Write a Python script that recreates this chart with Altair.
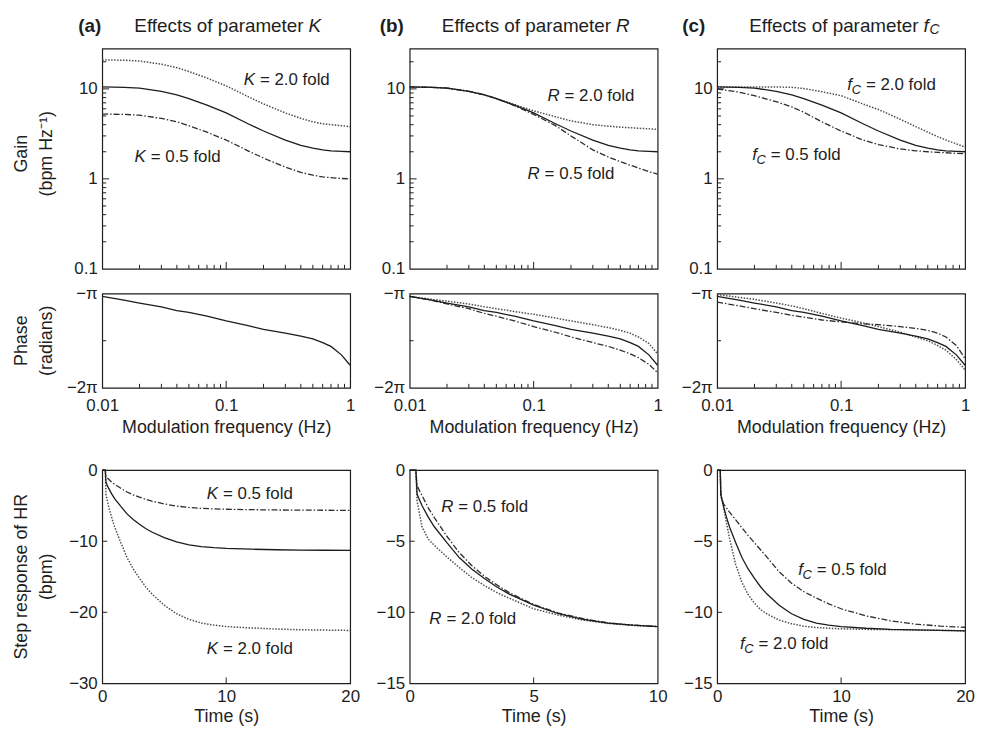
import altair as alt
import pandas as pd

# ---------------- values ----------------
FREQ = [0.01, 0.015, 0.02, 0.03, 0.04, 0.05, 0.07, 0.1, 0.15, 0.2, 0.3, 0.4, 0.5, 0.6, 0.7, 0.85, 1.0]

GAIN_CTRL = [10.5, 10.4, 10.2, 9.4, 8.6, 7.8, 6.6, 5.4, 4.1, 3.4, 2.7, 2.35, 2.2, 2.1, 2.05, 2.02, 2.0]
GAIN_K2 = [21.0, 20.8, 20.4, 18.8, 17.2, 15.6, 13.2, 10.8, 8.2, 6.8, 5.4, 4.7, 4.3, 4.1, 4.0, 3.9, 3.8]
GAIN_K05 = [5.25, 5.2, 5.1, 4.7, 4.3, 3.9, 3.3, 2.7, 2.05, 1.7, 1.35, 1.18, 1.1, 1.05, 1.03, 1.01, 1.0]
GAIN_R2 = [10.5, 10.4, 10.2, 9.4, 8.6, 7.8, 6.7, 5.7, 4.9, 4.4, 4.0, 3.85, 3.75, 3.7, 3.65, 3.6, 3.55]
GAIN_R05 = [10.5, 10.4, 10.2, 9.4, 8.6, 7.8, 6.5, 5.2, 3.9, 3.0, 2.1, 1.75, 1.55, 1.42, 1.32, 1.2, 1.13]
GAIN_FC2 = [10.5, 10.5, 10.5, 10.5, 10.4, 10.1, 9.3, 8.4, 6.8, 5.9, 4.6, 3.8, 3.3, 2.95, 2.7, 2.45, 2.25]
GAIN_FC05 = [10.0, 9.2, 8.4, 7.2, 6.3, 5.5, 4.3, 3.4, 2.7, 2.4, 2.15, 2.05, 2.0, 1.97, 1.95, 1.92, 1.9]

# phase in multiples of pi
PHASE_CTRL = [-1.03, -1.07, -1.10, -1.14, -1.18, -1.20, -1.24, -1.29, -1.34, -1.38, -1.42, -1.45, -1.48, -1.52, -1.56, -1.65, -1.76]
PHASE_R2 = [-1.03, -1.06, -1.08, -1.11, -1.14, -1.16, -1.19, -1.22, -1.26, -1.29, -1.33, -1.36, -1.39, -1.42, -1.46, -1.53, -1.64]
PHASE_R05 = [-1.03, -1.07, -1.11, -1.16, -1.21, -1.24, -1.29, -1.35, -1.41, -1.46, -1.52, -1.56, -1.60, -1.64, -1.68, -1.75, -1.84]
PHASE_FC2 = [-1.01, -1.04, -1.06, -1.10, -1.13, -1.16, -1.21, -1.26, -1.31, -1.35, -1.41, -1.46, -1.50, -1.55, -1.60, -1.70, -1.81]
PHASE_FC05 = [-1.09, -1.13, -1.16, -1.20, -1.23, -1.25, -1.28, -1.30, -1.32, -1.33, -1.35, -1.37, -1.39, -1.42, -1.46, -1.55, -1.69]

TIME = [0, 0.25, 0.3, 0.5, 0.75, 1, 1.5, 2, 2.5, 3, 3.5, 4, 5, 6, 7, 8, 9, 10, 12, 14, 16, 18, 20]
STEP_CTRL = [0, 0, -1.7, -2.5, -3.3, -4.0, -5.1, -6.15, -6.95, -7.6, -8.2, -8.7, -9.5, -10.1, -10.5, -10.76, -10.9, -11.0, -11.12, -11.2, -11.24, -11.27, -11.3]
STEP_K2 = [0, 0, -3.4, -5.0, -6.6, -8.0, -10.2, -12.3, -13.9, -15.2, -16.4, -17.4, -19.0, -20.2, -21.0, -21.5, -21.8, -22.0, -22.2, -22.35, -22.45, -22.5, -22.55]
STEP_K05 = [0, 0, -0.85, -1.25, -1.65, -2.0, -2.55, -3.08, -3.48, -3.8, -4.1, -4.35, -4.75, -5.05, -5.25, -5.38, -5.45, -5.5, -5.56, -5.6, -5.62, -5.64, -5.65]
STEP_R2 = [0, 0, -2.2, -4.0, -4.85, -5.3, -6.1, -6.85, -7.55, -8.1, -8.6, -9.0, -9.75, -10.2, -10.55, -10.78, -10.92, -11.0, -11.12, -11.2, -11.24, -11.27, -11.3]
STEP_R05 = [0, 0, -1.1, -1.8, -2.65, -3.35, -4.65, -5.8, -6.7, -7.45, -8.05, -8.6, -9.45, -10.05, -10.45, -10.74, -10.9, -11.0, -11.12, -11.2, -11.24, -11.27, -11.3]
STEP_FC2 = [0, 0, -1.8, -2.5, -3.7, -4.8, -6.65, -7.9, -8.75, -9.35, -9.8, -10.1, -10.55, -10.8, -10.98, -11.07, -11.12, -11.16, -11.2, -11.22, -11.25, -11.27, -11.3]
STEP_FC05 = [0, 0, -1.8, -2.35, -2.65, -2.95, -3.5, -4.05, -4.6, -5.1, -5.6, -6.1, -7.15, -7.95, -8.55, -9.0, -9.4, -9.75, -10.25, -10.6, -10.83, -10.97, -11.05]

# axis tick values
LOG_X_MINOR = [0.02, 0.03, 0.04, 0.05, 0.06, 0.07, 0.08, 0.09, 0.2, 0.3, 0.4, 0.5, 0.6, 0.7, 0.8, 0.9]
LOG_X_MAJOR = [0.1]
GAIN_Y_MINOR = [0.2, 0.3, 0.4, 0.5, 0.6, 0.7, 0.8, 0.9, 2, 3, 4, 5, 6, 7, 8, 9, 20]
GAIN_Y_MAJOR = [1, 10]
PHASE_Y_INNER = [-1.5]

# curve labels: (x, y, symbol, subscript, text)
LAB_GAIN_A = [(0.177, 12.6, "K", "", "= 2.0 fold"), (0.0233, 1.73, "K", "", "= 0.5 fold")]
LAB_GAIN_B = [(0.168, 8.3, "R", "", "= 2.0 fold"), (0.116, 1.12, "R", "", "= 0.5 fold")]
LAB_GAIN_C = [(0.15, 11.0, "f", "C", "= 2.0 fold"), (0.0256, 1.86, "f", "C", "= 0.5 fold")]
LAB_STEP_A = [(9.5, -3.3, "K", "", "= 0.5 fold"), (9.5, -25.1, "K", "", "= 2.0 fold")]
LAB_STEP_B = [(1.84, -2.57, "R", "", "= 0.5 fold"), (1.36, -10.5, "R", "", "= 2.0 fold")]
LAB_STEP_C = [(7.8, -7.0, "f", "C", "= 0.5 fold"), (3.1, -12.2, "f", "C", "= 2.0 fold")]

# ---------------- styling ----------------
FONT = "Liberation Sans"
INK = "#1e1e1e"
W = 250
H_GAIN, H_PHASE, H_GAP, H_STEP = 222, 95, 33, 215

SOLID = {"color": "#1c1c1c", "strokeWidth": 1.3}
DOT = {"color": "#4d4d4d", "strokeWidth": 1.5, "strokeDash": [1.5, 1.5]}
DASHDOT = {"color": "#2e2e2e", "strokeWidth": 1.3, "strokeDash": [6, 2, 1.5, 2]}

ONE = pd.DataFrame({"a": [0]})


def txt(text, x, y, size=17, **kw):
    return alt.Chart(ONE).mark_text(
        text=text, font=FONT, fontSize=size, color=INK, baseline="middle", **kw
    ).encode(x=alt.value(x), y=alt.value(y))


def lines(xfield, xs, series, xenc, yenc, tmax=None):
    out = []
    for ys, style in series:
        df = pd.DataFrame({xfield: xs, "v": ys})
        if tmax is not None:
            df = df[df[xfield] <= tmax]
        out.append(alt.Chart(df).mark_line(**style).encode(x=xenc, y=yenc))
    return out


def xticks(xfield, vals, xenc, h, length):
    df = pd.DataFrame({xfield: vals})
    return alt.Chart(df).mark_rule(color=INK, strokeWidth=1).encode(
        x=xenc, y=alt.value(h), y2=alt.value(h - length))


def yticks(vals, yenc, length):
    df = pd.DataFrame({"v": vals})
    return alt.Chart(df).mark_rule(color=INK, strokeWidth=1).encode(
        y=yenc, x=alt.value(0), x2=alt.value(length))


def curve_labels(xfield, labels, xenc, yenc):
    out = []
    for x, y, sym, sub, rest in labels:
        base = alt.Chart(pd.DataFrame({xfield: [x], "v": [y]}))
        out.append(base.mark_text(text=rest, align="left", baseline="middle", dx=3,
                                  font=FONT, fontSize=17, color=INK).encode(x=xenc, y=yenc))
        if sub:
            out.append(base.mark_text(text=sub, align="right", baseline="middle", dx=-2, dy=5,
                                      font=FONT, fontSize=13, fontStyle="italic", color=INK).encode(x=xenc, y=yenc))
            out.append(base.mark_text(text=sym, align="right", baseline="middle", dx=-11,
                                      font=FONT, fontSize=17, fontStyle="italic", color=INK).encode(x=xenc, y=yenc))
        else:
            out.append(base.mark_text(text=sym, align="right", baseline="middle", dx=-2,
                                      font=FONT, fontSize=17, fontStyle="italic", color=INK).encode(x=xenc, y=yenc))
    return out


def freq_x(show):
    sc = alt.Scale(type="log", domain=[0.01, 1], nice=False)
    if show:
        return alt.X("f:Q", scale=sc, axis=alt.Axis(
            values=[0.01, 0.1, 1], format="~g", title="Modulation frequency (Hz)",
            labelPadding=10, titlePadding=5, labelFlush=False))
    return alt.X("f:Q", scale=sc, axis=None)


def gain_y():
    return alt.Y("v:Q", scale=alt.Scale(type="log", domain=[0.1, 28], nice=False),
                 axis=alt.Axis(values=[0.1, 1, 10], format="~g", title=None, labelPadding=5))


def phase_y():
    return alt.Y("v:Q", scale=alt.Scale(domain=[-2, -1], nice=False, zero=False),
                 axis=alt.Axis(values=[-2, -1], title=None, labelPadding=5,
                               labelExpr="datum.value == -1 ? '\u2212\u03c0' : '\u22122\u03c0'"))


def step_y(lo, vals):
    return alt.Y("v:Q", scale=alt.Scale(domain=[lo, 0], nice=False, zero=False),
                 axis=alt.Axis(values=vals, format="d", title=None, labelPadding=5))


def time_x(tmax, vals):
    return alt.X("t:Q", scale=alt.Scale(domain=[0, tmax], nice=False),
                 axis=alt.Axis(values=vals, format="d", title="Time (s)",
                               labelPadding=5, titlePadding=3, labelFlush=False))


def title_layers(letter, letter_x, sym, sub):
    out = [txt("(" + letter + ")", letter_x, -23, size=19, fontWeight="bold", align="right"),
           txt("Effects of parameter", 203, -23, size=19, align="right"),
           txt(sym, 208, -23, size=19, fontStyle="italic", align="left")]
    if sub:
        out.append(txt(sub, 214, -19, size=14, fontStyle="italic", align="left"))
    return out


def gain_panel(series, labels, letter, letter_x, sym, sub, ytitle):
    xe, ye = freq_x(False), gain_y()
    layers = lines("f", FREQ, series, xe, ye)
    layers += [xticks("f", LOG_X_MINOR, xe, H_GAIN, 4), xticks("f", LOG_X_MAJOR, xe, H_GAIN, 7),
               yticks(GAIN_Y_MINOR, ye, 4), yticks(GAIN_Y_MAJOR, ye, 7)]
    layers += curve_labels("f", labels, xe, ye)
    layers += title_layers(letter, letter_x, sym, sub)
    if ytitle:
        layers += [txt("Gain", -81, H_GAIN / 2 - 5, size=18, angle=270, align="center"),
                   txt("(bpm Hz\u207b\u00b9)", -56, H_GAIN / 2 - 5, size=18, angle=270, align="center")]
    return alt.layer(*layers).properties(width=W, height=H_GAIN)


def phase_panel(series, ytitle):
    xe, ye = freq_x(True), phase_y()
    layers = lines("f", FREQ, series, xe, ye)
    layers += [xticks("f", LOG_X_MINOR, xe, H_PHASE, 4), xticks("f", LOG_X_MAJOR, xe, H_PHASE, 7),
               yticks(PHASE_Y_INNER, ye, 4)]
    if ytitle:
        layers += [txt("Phase", -81, H_PHASE / 2, size=18, angle=270, align="center"),
                   txt("(radians)", -56, H_PHASE / 2, size=18, angle=270, align="center")]
    return alt.layer(*layers).properties(width=W, height=H_PHASE)


def step_panel(series, labels, tmax, xvals, xinner, lo, yvals, yinner, ytitle):
    xe, ye = time_x(tmax, xvals), step_y(lo, yvals)
    layers = lines("t", TIME, series, xe, ye, tmax=tmax)
    layers += [xticks("t", xinner, xe, H_STEP, 6), yticks(yinner, ye, 5)]
    layers += curve_labels("t", labels, xe, ye)
    if ytitle:
        layers += [txt("Step response of HR", -81, H_STEP / 2, size=18, angle=270, align="center"),
                   txt("(bpm)", -56, H_STEP / 2, size=18, angle=270, align="center")]
    return alt.layer(*layers).properties(width=W, height=H_STEP)


def spacer():
    return alt.Chart(ONE).mark_text(text="").encode(x=alt.value(0), y=alt.value(0)).properties(
        width=W, height=H_GAP, view=alt.ViewBackground(strokeOpacity=0))


g_a = gain_panel([(GAIN_K2, DOT), (GAIN_K05, DASHDOT), (GAIN_CTRL, SOLID)], LAB_GAIN_A, "a", -1, "K", "", True)
g_b = gain_panel([(GAIN_R2, DOT), (GAIN_R05, DASHDOT), (GAIN_CTRL, SOLID)], LAB_GAIN_B, "b", -6, "R", "", False)
g_c = gain_panel([(GAIN_FC2, DOT), (GAIN_FC05, DASHDOT), (GAIN_CTRL, SOLID)], LAB_GAIN_C, "c", -12, "f", "C", False)

p_a = phase_panel([(PHASE_CTRL, SOLID)], True)
p_b = phase_panel([(PHASE_R2, DOT), (PHASE_R05, DASHDOT), (PHASE_CTRL, SOLID)], False)
p_c = phase_panel([(PHASE_FC2, DOT), (PHASE_FC05, DASHDOT), (PHASE_CTRL, SOLID)], False)

s_a = step_panel([(STEP_K2, DOT), (STEP_K05, DASHDOT), (STEP_CTRL, SOLID)], LAB_STEP_A,
                 20, [0, 10, 20], [10], -30, [0, -10, -20, -30], [-10, -20], True)
s_b = step_panel([(STEP_R2, DOT), (STEP_R05, DASHDOT), (STEP_CTRL, SOLID)], LAB_STEP_B,
                 10, [0, 5, 10], [5], -15, [0, -5, -10, -15], [-5, -10], False)
s_c = step_panel([(STEP_FC2, DOT), (STEP_FC05, DASHDOT), (STEP_CTRL, SOLID)], LAB_STEP_C,
                 20, [0, 10, 20], [10], -15, [0, -5, -10, -15], [-5, -10], False)

chart = alt.concat(
    g_a, g_b, g_c,
    p_a, p_b, p_c,
    spacer(), spacer(), spacer(),
    s_a, s_b, s_c,
    columns=3, spacing={"row": 25, "column": 60}, bounds="flush",
).properties(
    padding={"left": 4, "top": 5, "right": 0, "bottom": 0}, background="white"
).configure(font=FONT).configure_view(
    stroke=INK, strokeWidth=1.2
).configure_axis(
    labelFont=FONT, titleFont=FONT, labelFontSize=17, titleFontSize=18,
    titleFontWeight="normal", labelColor=INK, titleColor=INK,
    ticks=False, domain=False, grid=False
)

chart.save("out.html", embed_options={"renderer": "svg", "actions": False})
